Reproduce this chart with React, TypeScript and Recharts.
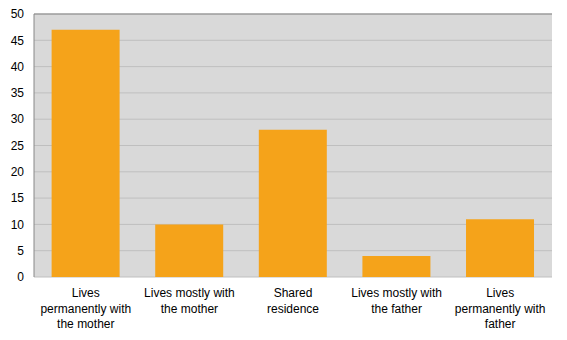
import { BarChart, Bar, XAxis, YAxis, CartesianGrid, ReferenceLine } from "recharts";

const categories = [
  "Lives\npermanently with\nthe mother",
  "Lives mostly with\nthe mother",
  "Shared\nresidence",
  "Lives mostly with\nthe father",
  "Lives\npermanently with\nfather",
];
const values = [47, 10, 28, 4, 11];
const yTicks = [0, 5, 10, 15, 20, 25, 30, 35, 40, 45, 50];

const data = categories.map((c, i) => ({ name: c, value: values[i] }));

const CatTick = ({ x, y, payload }: any) => {
  const lines = String(payload.value).split("\n");
  return (
    <text x={x} y={y} textAnchor="middle" fill="#000" fontSize={12} fontFamily="Liberation Sans, Arial, sans-serif">
      {lines.map((l, i) => (
        <tspan key={i} x={x} dy={i === 0 ? 12 : 15.5}>{l}</tspan>
      ))}
    </text>
  );
};

export default function App() {
  return (
    <div style={{ position: "absolute", left: 0, top: 0, background: "#fff" }}>
      <BarChart width={567} height={340} data={data} margin={{ top: 14, right: 15, left: 0, bottom: 0 }} barCategoryGap="17%">
        <CartesianGrid fill="#d9d9d9" stroke="#bfbfbf" vertical={false} />
        <XAxis dataKey="name" height={63} tick={<CatTick />} interval={0} axisLine={false} tickLine={false} />
        <YAxis
          domain={[0, 50]}
          ticks={yTicks}
          width={34}
          tickLine={false}
          axisLine={{ stroke: "#888" }}
          tick={{ fontSize: 12, fill: "#000", fontFamily: "Liberation Sans, Arial, sans-serif" }}
          tickMargin={4}
        />
        <YAxis yAxisId="r" orientation="right" width={0} tick={false} tickLine={false} axisLine={{ stroke: "#888" }} />
        <ReferenceLine y={50} stroke="#888" />
        <Bar dataKey="value" fill="#f5a31a" isAnimationActive={false} />
      </BarChart>
    </div>
  );
}
